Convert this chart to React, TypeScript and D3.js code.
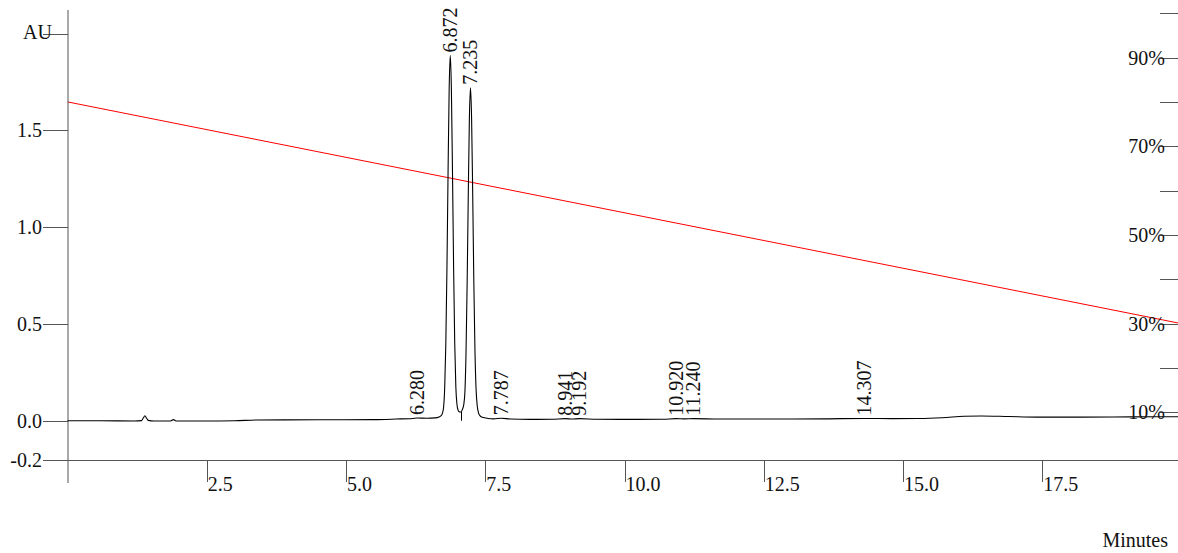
import React from 'react';
import * as d3 from 'd3';

// Absorbance trace (minutes, AU)
const traceTime = [
  0.0, 0.6, 1.2, 1.33, 1.36, 1.39, 1.42, 1.45, 1.55, 1.85, 1.9, 1.95, 2.6, 3.0, 3.4, 4.5, 5.5, 5.9,
  6.2, 6.28, 6.45, 6.6, 6.67, 6.712, 6.732, 6.752, 6.772, 6.792, 6.812, 6.832, 6.852, 6.872, 6.892,
  6.912, 6.932, 6.952, 6.972, 6.992, 7.012, 7.035, 7.06, 7.085, 7.115, 7.135, 7.155, 7.175, 7.195,
  7.215, 7.235, 7.255, 7.275, 7.295, 7.315, 7.335, 7.355, 7.375, 7.4, 7.45, 7.55, 7.65, 7.787, 7.95,
  8.3, 8.7, 8.941, 9.06, 9.192, 9.5, 10.2, 10.7, 10.92, 11.08, 11.24, 11.7, 12.6, 13.6, 14.307, 14.8,
  15.3, 15.7, 16.1, 16.4, 16.9, 17.4, 18.2, 19.1, 20.0,
];
const traceAU = [
  0.0, 0.0, -0.001, 0.001, 0.014, 0.026, 0.013, 0.002, -0.001, -0.001, 0.006, -0.001, -0.001, 0.0,
  0.004, 0.005, 0.006, 0.009, 0.012, 0.014, 0.013, 0.015, 0.02, 0.028, 0.04, 0.07, 0.17, 0.395, 0.78,
  1.275, 1.71, 1.887, 1.712, 1.28, 0.79, 0.4, 0.175, 0.085, 0.055, 0.046, 0.045, 0.055, 0.085, 0.15,
  0.355, 0.71, 1.16, 1.56, 1.72, 1.56, 1.165, 0.715, 0.365, 0.165, 0.08, 0.045, 0.028, 0.018, 0.012,
  0.01, 0.013, 0.009, 0.007, 0.008, 0.011, 0.009, 0.011, 0.008, 0.007, 0.008, 0.011, 0.01, 0.011,
  0.009, 0.009, 0.01, 0.012, 0.011, 0.012, 0.016, 0.023, 0.025, 0.022, 0.019, 0.019, 0.02, 0.021,
];

// Integrated peak retention times
const peakLabels = ['6.280', '6.872', '7.235', '7.787', '8.941', '9.192', '10.920', '11.240', '14.307'];
// Valley drop line between the two main peaks
const dropLineTime = 7.06;

// Solvent gradient (%B)
const gradientTime = [0, 20];
const gradientPercent = [80, 30];

const auTicks = [-0.2, 0.0, 0.5, 1.0, 1.5];
const auTickLabels = ['-0.2', '0.0', '0.5', '1.0', '1.5'];
const auUnitTick = 2.0;
const timeTicks = [2.5, 5.0, 7.5, 10.0, 12.5, 15.0, 17.5];
const timeTickLabels = ['2.5', '5.0', '7.5', '10.0', '12.5', '15.0', '17.5'];
const percentTicks = [10, 20, 30, 40, 50, 60, 70, 80, 90, 100];
const percentLabelTicks = [10, 30, 50, 70, 90];

const W = 1178;
const H = 553;
const FONT = '"Liberation Serif", "Times New Roman", Times, serif';
const AXIS = '#555';

const crisp = (v: number) => Math.round(v) + 0.5;

export default function App() {
  const x = d3.scaleLinear().domain([0, 20]).range([67.5, 1181.5]);
  const y = d3.scaleLinear().domain([-0.2, 2.0]).range([459.5, 33.5]);
  const pct = d3.scaleLinear().domain([0, 100]).range([456.7, 13.2]);

  const pts: [number, number][] = traceTime.map((t, i) => [t, traceAU[i]]);
  const trace = d3
    .line<[number, number]>()
    .x((d) => x(d[0]))
    .y((d) => y(d[1]))
    .curve(d3.curveMonotoneX)(pts);

  const grad = d3
    .line<number>()
    .x((_, i) => x(gradientTime[i]))
    .y((d) => pct(d))(gradientPercent);

  const auAt = (t: number) => {
    const i = d3.leastIndex(traceTime, (a) => Math.abs(a - t)) ?? 0;
    return traceAU[i];
  };
  const valleyAU = auAt(dropLineTime);

  const axisLeft = crisp(x(0)) - 0.5;
  const axisBottom = crisp(y(-0.2));
  const textStyle = { fontFamily: FONT, fontSize: '20px' };

  return (
    <svg
      width={W}
      height={H}
      style={{ position: 'absolute', left: 0, top: 0, background: '#fff' }}
    >
      <rect x={0} y={0} width={W} height={H} fill="#fff" />

      {/* gradient line */}
      <path d={grad ?? ''} fill="none" stroke="#ff0000" strokeWidth={1} />

      {/* left axis */}
      <line x1={axisLeft} x2={axisLeft} y1={10} y2={483} stroke={AXIS} strokeWidth={1} />
      {auTicks.map((v, i) => (
        <g key={'au' + i}>
          <line x1={43} x2={axisLeft} y1={crisp(y(v))} y2={crisp(y(v))} stroke={AXIS} />
          <text x={42} y={y(v)} dy="0.35em" textAnchor="end" fill="#111" style={textStyle}>
            {auTickLabels[i]}
          </text>
        </g>
      ))}
      <line x1={43} x2={axisLeft} y1={crisp(y(auUnitTick))} y2={crisp(y(auUnitTick))} stroke={AXIS} />
      <text x={23} y={y(auUnitTick) - 1.5} dy="0.35em" fill="#111" style={textStyle}>
        AU
      </text>

      {/* bottom axis */}
      <line x1={43} x2={W} y1={axisBottom} y2={axisBottom} stroke={AXIS} />
      {timeTicks.map((v, i) => (
        <g key={'t' + i}>
          <line x1={crisp(x(v))} x2={crisp(x(v))} y1={axisBottom} y2={482} stroke={AXIS} />
          <text x={x(v) + 1} y={491} fill="#111" style={textStyle}>
            {timeTickLabels[i]}
          </text>
        </g>
      ))}
      <text x={1168} y={547} textAnchor="end" fill="#111" style={textStyle}>
        Minutes
      </text>

      {/* right (%B) axis */}
      {percentTicks.map((v) => (
        <line key={'p' + v} x1={1160} x2={W} y1={crisp(pct(v))} y2={crisp(pct(v))} stroke={AXIS} />
      ))}

      {/* chromatogram */}
      <path d={trace ?? ''} fill="none" stroke="#000" strokeWidth={1.1} />
      <line
        x1={crisp(x(dropLineTime))}
        x2={crisp(x(dropLineTime))}
        y1={y(valleyAU)}
        y2={y(0)}
        stroke="#000"
        strokeWidth={1}
      />

      {percentLabelTicks.map((v) => (
        <text key={'pl' + v} x={1165} y={pct(v)} dy="0.35em" textAnchor="end" fill="#111" style={textStyle}>
          {v}%
        </text>
      ))}

      {/* peak retention time labels */}
      {peakLabels.map((s) => {
        const t = Number(s);
        const px = x(t);
        const py = y(auAt(t));
        return (
          <text
            key={s}
            transform={`translate(${px + 6.8},${py - 3}) rotate(-90)`}
            textAnchor="start"
            fill="#111"
            style={textStyle}
          >
            {s}
          </text>
        );
      })}
    </svg>
  );
}
